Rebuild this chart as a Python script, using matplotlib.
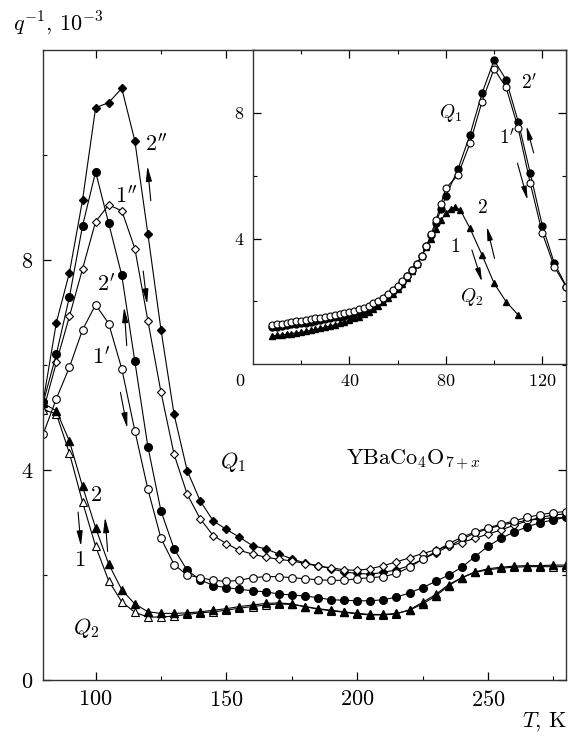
import numpy as np
import matplotlib
matplotlib.use('Agg')
import matplotlib.pyplot as plt
from matplotlib.ticker import MultipleLocator, FixedLocator

plt.rcParams['font.family'] = 'serif'
plt.rcParams['font.serif'] = ['cmr10']
plt.rcParams['mathtext.fontset'] = 'cm'
plt.rcParams['axes.formatter.use_mathtext'] = True
plt.rcParams['axes.unicode_minus'] = False

# main panel, T step 5 K
T = np.arange(80, 285, 5)
c2_fill_diam = [5.32, 6.81, 7.76, 9.14, 10.9, 11.0, 11.27, 10.27, 8.49, 6.67,
                5.06, 3.99, 3.41, 3.03, 2.87, 2.72, 2.56, 2.5, 2.4, 2.31,
                2.23, 2.18, 2.12, 2.06, 2.03, 2.02, 2.05, 2.1, 2.18, 2.3,
                2.42, 2.55, 2.68, 2.8, 2.88, 2.95, 3.0, 3.04, 3.07, 3.09, 3.1]
c1_open_diam = [5.13, 6.05, 6.93, 7.83, 8.73, 9.05, 8.94, 8.22, 6.84, 5.48,
                4.3, 3.54, 3.07, 2.75, 2.6, 2.47, 2.4, 2.34, 2.3, 2.27,
                2.22, 2.17, 2.14, 2.1, 2.09, 2.12, 2.18, 2.25, 2.33, 2.41,
                2.48, 2.55, 2.62, 2.7, 2.78, 2.86, 2.95, 3.03, 3.1, 3.14, 3.17]
b2_fill_circ = [5.29, 6.21, 7.3, 8.65, 9.68, 8.7, 7.71, 6.07, 4.44, 3.22,
                2.5, 2.09, 1.91, 1.8, 1.76, 1.73, 1.7, 1.68, 1.64, 1.62,
                1.6, 1.57, 1.53, 1.52, 1.51, 1.51, 1.53, 1.58, 1.66, 1.76,
                1.88, 2.0, 2.15, 2.35, 2.55, 2.7, 2.82, 2.92, 3.0, 3.05, 3.1]
b1_open_circ = [4.69, 5.36, 5.96, 6.67, 7.15, 6.79, 5.93, 4.75, 3.63, 2.7,
                2.2, 2.0, 1.95, 1.9, 1.88, 1.9, 1.95, 1.97, 1.97, 1.95,
                1.93, 1.91, 1.9, 1.9, 1.93, 1.95, 1.97, 2.03, 2.15, 2.3,
                2.45, 2.6, 2.72, 2.82, 2.9, 2.97, 3.03, 3.1, 3.15, 3.19, 3.21]
a2_fill_tri = [5.27, 5.13, 4.55, 3.69, 2.9, 2.21, 1.72, 1.45, 1.3, 1.27,
               1.27, 1.28, 1.3, 1.33, 1.36, 1.4, 1.43, 1.46, 1.47, 1.45,
               1.4, 1.36, 1.33, 1.3, 1.27, 1.25, 1.25, 1.27, 1.33, 1.45,
               1.6, 1.8, 1.95, 2.06, 2.12, 2.15, 2.17, 2.18, 2.18, 2.19, 2.19]
a1_open_tri = [5.15, 5.07, 4.32, 3.39, 2.55, 1.89, 1.49, 1.29, 1.2, 1.2,
               1.22, 1.25, 1.28, 1.3, 1.33, 1.37, 1.4, 1.43, 1.45, 1.44,
               1.4, 1.35, 1.32, 1.29, 1.26, 1.24, 1.24, 1.26, 1.34, 1.48,
               1.63, 1.82, 1.95, 2.05, 2.1, 2.13, 2.15, 2.16, 2.16, 2.16, 2.16]

# inset: dense low-T part every 2 K, then 5 K steps
T_low = np.arange(8, 80, 2)
Ti_q1 = list(T_low) + [80, 85, 90, 95, 100, 105, 110, 115, 120, 125, 130]
ins_fill = [1.18, 1.2, 1.22, 1.24, 1.27, 1.29, 1.31, 1.33, 1.36, 1.38, 1.4, 1.43,
            1.46, 1.49, 1.52, 1.55, 1.58, 1.62, 1.67, 1.73, 1.8, 1.88, 1.97, 2.08,
            2.2, 2.33, 2.47, 2.63, 2.8, 2.99, 3.2, 3.45, 3.75, 4.1, 4.5, 4.95,
            5.35, 6.2, 7.3, 8.62, 9.68, 9.05, 7.72, 6.08, 4.41, 3.21, 2.47]
ins_open = [1.25, 1.27, 1.29, 1.32, 1.35, 1.37, 1.39, 1.41, 1.44, 1.46, 1.48, 1.51,
            1.54, 1.57, 1.6, 1.63, 1.66, 1.7, 1.75, 1.8, 1.87, 1.94, 2.02, 2.12,
            2.24, 2.37, 2.5, 2.65, 2.82, 3.0, 3.2, 3.45, 3.77, 4.15, 4.6, 5.1,
            5.6, 6.02, 7.03, 8.36, 9.4, 8.81, 7.51, 5.76, 4.17, 3.1, 2.45]
Ti_q2 = list(T_low) + [80, 82, 84, 86, 90, 95, 100, 105, 110]
ins_tri = [0.9, 0.92, 0.94, 0.96, 0.98, 1.0, 1.02, 1.05, 1.08, 1.11, 1.14, 1.18,
           1.22, 1.26, 1.3, 1.35, 1.4, 1.46, 1.52, 1.6, 1.68, 1.77, 1.87, 1.98,
           2.1, 2.24, 2.4, 2.57, 2.76, 2.97, 3.2, 3.45, 3.72, 4.0, 4.3, 4.58,
           4.8, 4.95, 5.0, 4.91, 4.33, 3.48, 2.58, 1.99, 1.57]

fig = plt.figure(figsize=(5.81, 7.36), dpi=100)
ax = fig.add_axes([0.0745, 0.076, 0.9005, 0.856])

lk = dict(color='k', lw=0.8)
ax.plot(T, c2_fill_diam, marker='D', ms=3.8, mfc='k', mec='k', **lk)
ax.plot(T, c1_open_diam, marker='D', ms=3.8, mfc='w', mec='k', mew=0.8, **lk)
ax.plot(T, b2_fill_circ, marker='o', ms=5.5, mfc='k', mec='k', **lk)
ax.plot(T, b1_open_circ, marker='o', ms=5.5, mfc='w', mec='k', mew=0.8, **lk)
ax.plot(T, a1_open_tri, marker='^', ms=5.5, mfc='w', mec='k', mew=0.8, **lk)
ax.plot(T, a2_fill_tri, marker='^', ms=5.5, mfc='k', mec='k', **lk)

ax.set_xlim(80, 280)
ax.set_ylim(0, 12)
ax.xaxis.set_major_locator(MultipleLocator(50))
ax.xaxis.set_minor_locator(MultipleLocator(25))
ax.yaxis.set_major_locator(FixedLocator([0, 4, 8]))
ax.yaxis.set_minor_locator(FixedLocator([2, 6, 10]))
ax.tick_params(which='both', direction='in', top=True, right=True, labelsize=16, pad=7)
ax.tick_params(which='major', length=6, width=0.9)
ax.tick_params(which='minor', length=3, width=0.8)
for s in ax.spines.values():
    s.set_linewidth(1.0)
    s.set_color('#333333')

fs = 16
ax.text(118.9, 10.2, "$2''$", fontsize=fs, ha='left', va='center')
ax.text(107.4, 9.22, "$1''$", fontsize=fs, ha='left', va='center')
ax.text(100.4, 7.54, "$2'$", fontsize=fs, ha='left', va='center')
ax.text(98.5, 6.15, "$1'$", fontsize=fs, ha='left', va='center')
ax.text(97.8, 3.52, "$2$", fontsize=fs, ha='left', va='center')
ax.text(93.8, 2.28, "$1$", fontsize=fs, ha='center', va='center')
ax.text(96.3, 1.0, "$Q_2$", fontsize=fs, ha='center', va='center')
ax.text(147.5, 4.15, "$Q_1$", fontsize=fs, ha='left', va='center')
ax.text(195.8, 4.18, r"$\mathrm{YBaCo_4O_{7+\mathit{x}}}$", fontsize=fs, ha='left', va='center')

ap = dict(arrowstyle='-|>,head_length=0.9,head_width=0.18', color='k', lw=0.8, shrinkA=0, shrinkB=0)
ax.annotate('', xy=(119.8, 9.79), xytext=(121.1, 9.13), arrowprops=ap)
ax.annotate('', xy=(119.7, 7.16), xytext=(118.2, 7.79), arrowprops=ap)
ax.annotate('', xy=(110.9, 7.1), xytext=(111.9, 6.37), arrowprops=ap)
ax.annotate('', xy=(112.1, 4.8), xytext=(109.5, 5.48), arrowprops=ap)
ax.annotate('', xy=(94.4, 2.55), xytext=(93.3, 3.2), arrowprops=ap)
ax.annotate('', xy=(103.6, 3.1), xytext=(104.6, 2.45), arrowprops=ap)

fig.text(13 / 581, 1 - 23 / 736, r"$q^{-1}$, $10^{-3}$", fontsize=16, ha='left', va='center')
fig.text(567 / 581, 1 - 722 / 736, r"$T$, K", fontsize=16, ha='right', va='center')

# inset
axi = fig.add_axes([0.435, 0.505, 0.540, 0.427])
axi.plot(Ti_q2, ins_tri, marker='^', ms=4.5, mfc='k', mec='k', **lk)
axi.plot(Ti_q1, ins_fill, marker='o', ms=5, mfc='k', mec='k', **lk)
axi.plot(Ti_q1, ins_open, marker='o', ms=5, mfc='w', mec='k', mew=0.8, **lk)
axi.set_xlim(0, 130)
axi.set_ylim(0, 10)
axi.xaxis.set_major_locator(FixedLocator([40, 80, 120]))
axi.xaxis.set_minor_locator(FixedLocator([20, 60, 100]))
axi.yaxis.set_major_locator(FixedLocator([4, 8]))
axi.yaxis.set_minor_locator(FixedLocator([2, 6]))
axi.tick_params(which='both', direction='in', top=True, right=True, labelsize=13, pad=6)
axi.tick_params(which='major', length=6, width=0.9)
axi.tick_params(which='minor', length=3, width=0.8)
for s in axi.spines.values():
    s.set_linewidth(1.0)
    s.set_color('#333333')
fig.text(240 / 581, 1 - 381.7 / 736, "0", fontsize=13, ha='center', va='center')

fsi = 14
axi.text(82, 8.0, "$Q_1$", fontsize=fsi, ha='center', va='center')
axi.text(114.7, 8.95, "$2'$", fontsize=fsi, ha='center', va='center')
axi.text(105.4, 7.2, "$1'$", fontsize=fsi, ha='center', va='center')
axi.text(95, 4.96, "$2$", fontsize=fsi, ha='center', va='center')
axi.text(84, 3.74, "$1$", fontsize=fsi, ha='center', va='center')
axi.text(90.8, 2.15, "$Q_2$", fontsize=fsi, ha='center', va='center')
api = dict(arrowstyle='-|>,head_length=0.8,head_width=0.16', color='k', lw=0.8, shrinkA=0, shrinkB=0)
axi.annotate('', xy=(113.4, 7.58), xytext=(116.4, 6.73), arrowprops=api)
axi.annotate('', xy=(113.9, 5.23), xytext=(109.7, 6.4), arrowprops=api)
axi.annotate('', xy=(97, 4.38), xytext=(100.2, 3.37), arrowprops=api)
axi.annotate('', xy=(95, 2.63), xytext=(90.8, 3.64), arrowprops=api)

fig.savefig('out.png', dpi=100)
